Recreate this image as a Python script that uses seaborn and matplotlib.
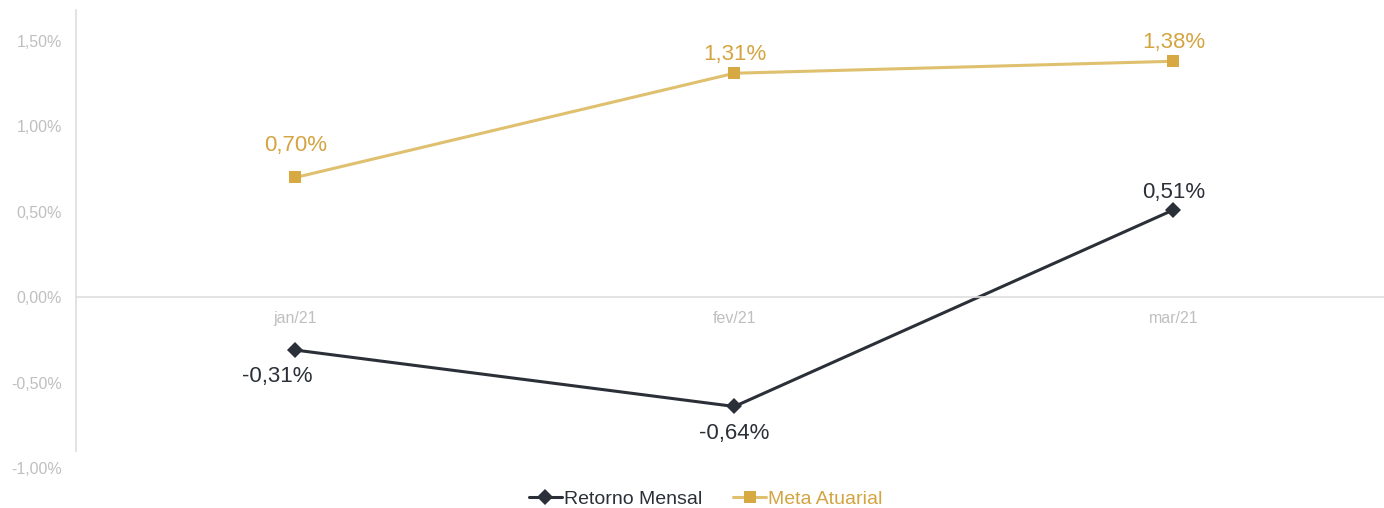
import numpy as np
import pandas as pd
import matplotlib
matplotlib.use('Agg')
import matplotlib.pyplot as plt
import seaborn as sns

# data
meses = ['jan/21', 'fev/21', 'mar/21']
retorno_mensal = [-0.31, -0.64, 0.51]
meta_atuarial = [0.70, 1.31, 1.38]
yticks = [-1.0, -0.5, 0.0, 0.5, 1.0, 1.5]

df = pd.DataFrame({
    'mes': meses * 2,
    'valor': retorno_mensal + meta_atuarial,
    'serie': ['Retorno Mensal'] * 3 + ['Meta Atuarial'] * 3,
})

sns.set_style('white')
plt.rcParams['font.family'] = ['Liberation Sans', 'DejaVu Sans']

dark = '#2B3038'
gold_line = '#DFC06E'
gold = '#D6A943'
gold_txt = '#D4A440'
grey = '#DEDEDE'
tick_grey = '#BFBFBF'

fig = plt.figure(figsize=(13.84, 5.08), dpi=100)
ax = fig.add_axes([76 / 1384, 40 / 508, 1 - 76 / 1384, 458 / 508])

sns.lineplot(data=df, x='mes', y='valor', hue='serie', style='serie',
             palette={'Retorno Mensal': dark, 'Meta Atuarial': gold_line},
             markers={'Retorno Mensal': 'D', 'Meta Atuarial': 's'},
             dashes=False, linewidth=2.2, markersize=8, markeredgewidth=0,
             ax=ax)

ax.set_xlim(-0.49, 2.48)
ax.set_ylim(-1.0, 1.68)
ax.set_yticks(yticks)
ax.set_yticklabels([f'{v:.2f}%'.replace('.', ',') for v in yticks])
ax.set_xlabel('')
ax.set_ylabel('')

for s in ['top', 'right']:
    ax.spines[s].set_visible(False)
ax.spines['left'].set_color(grey)
ax.spines['left'].set_linewidth(1.2)
ax.spines['left'].set_bounds(-0.9, 1.68)
ax.spines['bottom'].set_position(('data', 0))
ax.spines['bottom'].set_color(grey)
ax.spines['bottom'].set_linewidth(1.2)

ax.tick_params(axis='y', length=0, pad=10, labelsize=11.5, labelcolor=tick_grey)
ax.tick_params(axis='x', which='major', length=0, pad=10, labelsize=11.5,
               labelcolor=tick_grey)
ax.set_xticks([-0.5, 0.5, 1.5], minor=True)
ax.tick_params(axis='x', which='minor', length=4, color=grey, width=1)

# marcadores dourados mais escuros que a linha
for ln, h in zip(ax.lines, ['Retorno Mensal', 'Meta Atuarial']):
    if ln.get_marker() == 's':
        ln.set_markerfacecolor(gold)
        ln.set_markeredgecolor(gold)

# data labels
off_ret = [-26, -27, 17]
off_meta = [32, 19, 19]
for i, v in enumerate(retorno_mensal):
    ax.annotate(f'{v:.2f}%'.replace('.', ','), (i, v), xytext=(-13 if i == 0 else 0, off_ret[i] * 0.72),
                textcoords='offset points', ha='center', va='center',
                fontsize=16, color=dark)
for i, v in enumerate(meta_atuarial):
    ax.annotate(f'{v:.2f}%'.replace('.', ','), (i, v), xytext=(0, off_meta[i] * 0.72),
                textcoords='offset points', ha='center', va='center',
                fontsize=16, color=gold_txt)

handles, labels = ax.get_legend_handles_labels()
ax.get_legend().remove()
for hd in handles:
    if hd.get_marker() == 's':
        hd.set_markerfacecolor(gold)
        hd.set_markeredgecolor(gold)
leg = fig.legend(handles, labels, loc='center', bbox_to_anchor=(0.51, 0.018),
                 ncol=2, frameon=False, fontsize=14, handlelength=1.7,
                 handletextpad=0.1, columnspacing=1.6)
for t, c in zip(leg.get_texts(), [dark, gold_txt]):
    t.set_color(c)

fig.savefig('out.png', dpi=100)
